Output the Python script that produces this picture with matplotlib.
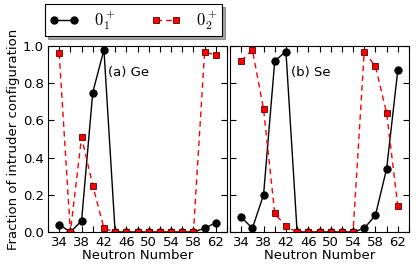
import matplotlib
matplotlib.use("Agg")
import matplotlib.pyplot as plt
from matplotlib.ticker import MultipleLocator

plt.rcParams['mathtext.fontset'] = 'cm'

N = [34, 36, 38, 40, 42, 44, 46, 48, 50, 52, 54, 56, 58, 60, 62]
ge_01 = [0.04, 0.0, 0.06, 0.75, 0.98, 0.0, 0.0, 0.0, 0.0, 0.0, 0.0, 0.0, 0.0, 0.02, 0.05]
ge_02 = [0.96, 0.0, 0.51, 0.25, 0.02, 0.0, 0.0, 0.0, 0.0, 0.0, 0.0, 0.0, 0.0, 0.97, 0.95]
se_01 = [0.08, 0.02, 0.20, 0.92, 0.97, 0.0, 0.0, 0.0, 0.0, 0.0, 0.0, 0.02, 0.09, 0.34, 0.87]
se_02 = [0.92, 0.98, 0.66, 0.10, 0.03, 0.0, 0.0, 0.0, 0.0, 0.0, 0.0, 0.97, 0.89, 0.64, 0.14]
panels = ["(a) Ge", "(b) Se"]
xticks = [34, 38, 42, 46, 50, 54, 58, 62]
yticks = [0.0, 0.2, 0.4, 0.6, 0.8, 1.0]

fig = plt.figure(figsize=(4.16, 2.69), dpi=100)
W, H = 416, 269
ax1 = fig.add_axes([48 / W, 1 - 232 / H, 179 / W, 186 / H])
ax2 = fig.add_axes([230 / W, 1 - 232 / H, 179 / W, 186 / H])

for ax, y1, y2, lab in [(ax1, ge_01, ge_02, panels[0]), (ax2, se_01, se_02, panels[1])]:
    l1, = ax.plot(N, y1, '-', color='black', lw=1.0, marker='o', ms=5,
                  mfc='black', mec='black', label=r'$0_1^+$')
    l2, = ax.plot(N, y2, '--', color='red', lw=1.0, marker='s', ms=5,
                  mfc='red', mec='#600000', mew=0.6, label=r'$0_2^+$',
                  dashes=(4, 3))
    ax.set_xlim(32, 64)
    ax.set_ylim(0, 1.0)
    ax.set_xticks(xticks)
    ax.xaxis.set_minor_locator(MultipleLocator(2))
    ax.set_yticks(yticks)
    ax.tick_params(which='both', direction='in', top=True, right=True,
                   labelsize=9.5, pad=3)
    ax.tick_params(which='major', length=4, width=0.8)
    ax.tick_params(which='minor', length=4, width=0.8)
    ax.set_xlabel('Neutron Number', fontsize=9.5, labelpad=0)
    ax.text(0.45, 0.86, lab, transform=ax.transAxes, ha='center', va='center', fontsize=9.5)

ax2.set_yticklabels([])
ax1.set_ylabel('Fraction of intruder configuration', fontsize=9.5, labelpad=2)

leg = ax1.legend(handles=[l1, l2], ncol=2, loc='lower left',
                 bbox_to_anchor=(-0.017, 1.054, 0.99, 0.2), mode='expand',
                 fontsize=12, frameon=True, fancybox=False, shadow=True,
                 borderaxespad=0, borderpad=0.25, handlelength=1.8,
                 handletextpad=0.9, columnspacing=2.0, numpoints=2)
leg.get_frame().set_edgecolor('black')
leg.get_frame().set_linewidth(0.8)

fig.savefig('out.png', dpi=100)
